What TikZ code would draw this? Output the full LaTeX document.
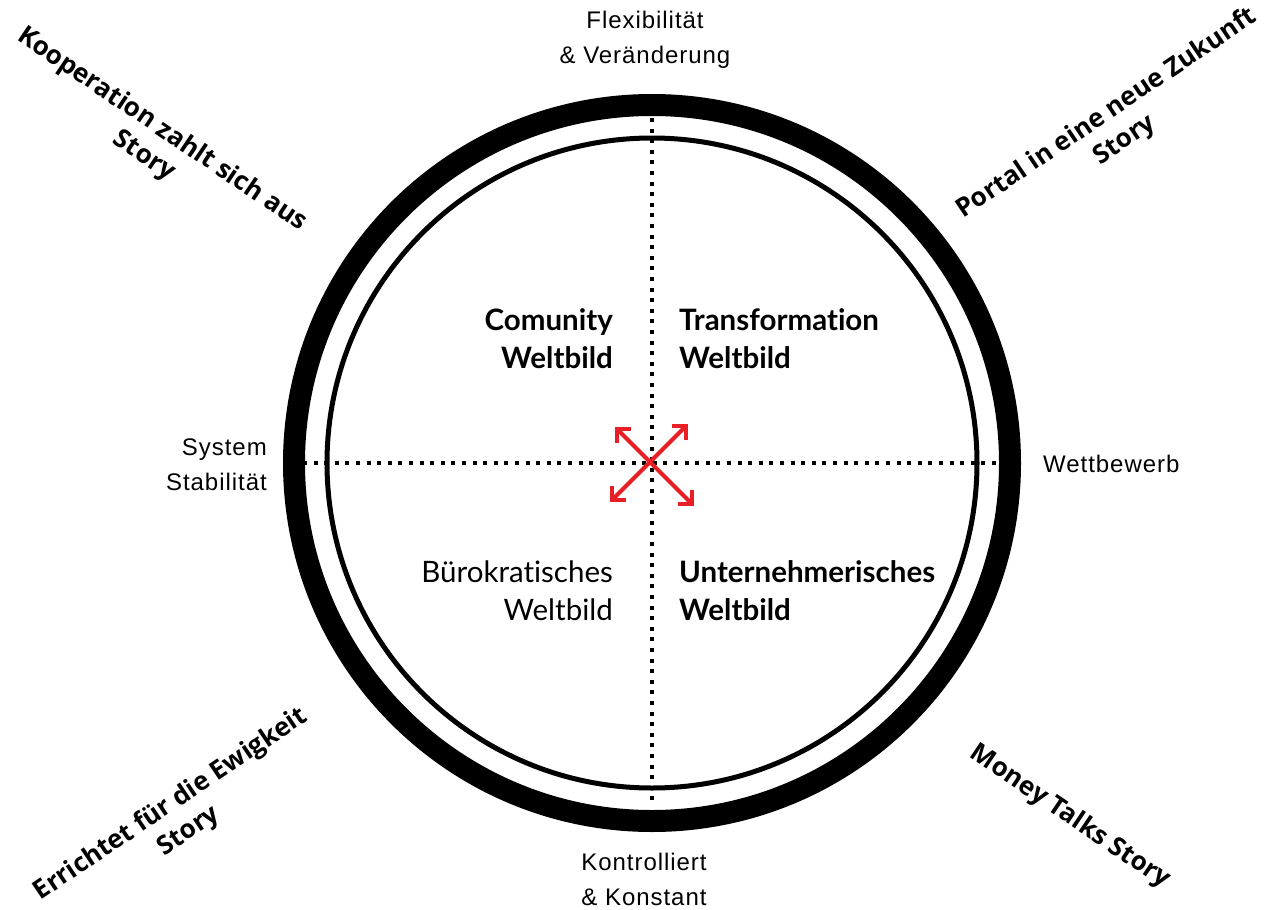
\documentclass[tikz,border=0pt]{standalone}
\usepackage{fontspec}
\setmainfont{Lato}[Ligatures=NoCommon]
\newfontfamily\axisfont{Liberation Sans}[LetterSpace=4]
\newfontfamily\storyfont{Open Sans}
\usetikzlibrary{arrows.meta}
\definecolor{arrowred}{RGB}{232,32,38}

\begin{document}
\begin{tikzpicture}[x=1pt, y=-1pt]
  \tikzstyle{world} = [align=right, font=\fontsize{29.5}{38}\selectfont, inner sep=0pt]
  \tikzstyle{axis} = [align=center, font=\axisfont\fontsize{24}{35}\selectfont, inner sep=0pt]
  \tikzstyle{story} = [align=center, font=\storyfont\bfseries\fontsize{26}{32}\selectfont, inner sep=0pt]
  \tikzstyle{dotline} = [line width = 4pt, dash pattern = on 4pt off 6.6pt]
  \tikzstyle{twoway} = [{Straight Barb[length=10pt, width=20pt]}-{Straight Barb[length=10pt, width=20pt]}, draw=arrowred, line width = 4pt, line cap = round]

  \useasboundingbox (0,0) rectangle (1264,910);

  % rings
  \coordinate (centre) at (652,463);
  \draw[line width = 22pt] (centre) circle [radius=358];
  \draw[line width = 5pt] (centre) circle [radius=325];

  % axes
  \coordinate (top) at (652,118);
  \coordinate (bottom) at (652,803);
  \coordinate (left) at (303,463);
  \coordinate (right) at (996,463);
  \draw[dotline] (left) -- (right);
  \draw[dotline] (top) -- (bottom);

  % arrows
  \coordinate (ne) at (688,424);
  \coordinate (sw) at (610,502);
  \coordinate (nw) at (615,427);
  \coordinate (se) at (694,506);
  \draw[twoway] (sw) -- (ne);
  \draw[twoway] (nw) -- (se);

  % quadrants
  \node [world, anchor=east] at (613,339) (community) {\bfseries Comunity\\\bfseries Weltbild};
  \node [world, anchor=west, align=left] at (679,339) (transformation) {\bfseries Transformation\\\bfseries Weltbild};
  \node [world, anchor=east] at (613,591) (buerokratie) {Bürokratisches\\Weltbild};
  \node [world, anchor=west, align=left] at (679,591) (unternehmer) {\bfseries Unternehmerisches\\\bfseries Weltbild};

  % axis labels
  \node [axis] at (645,40) (flex) {Flexibilität\\\& Veränderung};
  \node [axis] at (644,879) (kontrolle) {Kontrolliert\\\& Konstant};
  \node [axis, anchor=east, align=right] at (267,465) (system) {System\\Stabilität};
  \node [axis, anchor=west] at (1043,464) (wettbewerb) {Wettbewerb};

  % stories
  \node [story, rotate=-34] at (153,143) (kooperation) {Kooperation zahlt sich aus\\Story};
  \node [story, rotate=34] at (1116,127) (portal) {Portal in eine neue Zukunft\\Story};
  \node [story, rotate=34] at (180,818) (ewigkeit) {Errichtet für die Ewigkeit\\Story};
  \node [story, rotate=-34] at (1070,817) (money) {Money Talks Story};
\end{tikzpicture}
\end{document}
